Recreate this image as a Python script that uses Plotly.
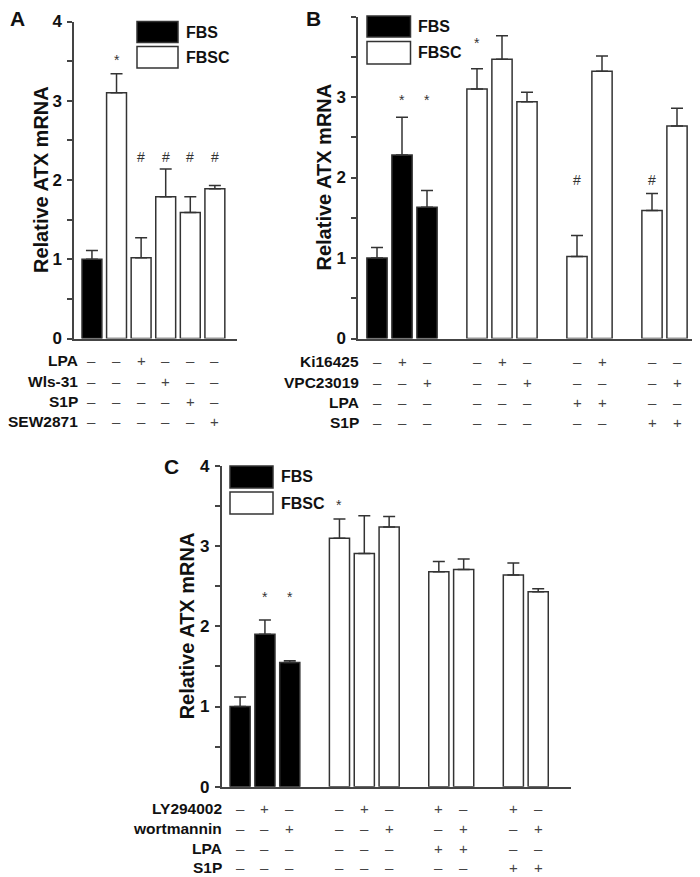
import plotly.graph_objects as go

W, H = 700, 877
OFF = 8  # the page body adds an 8px margin; reference pixels are shifted back by this
FONT = "Liberation Sans, Arial, sans-serif"
DARK = "#333333"

# ---------------- data ----------------
# Panel A
A_x = [0, 1, 2, 3, 4, 5]
A_vals = [1.00, 3.10, 1.02, 1.79, 1.59, 1.89]
A_err = [0.11, 0.24, 0.25, 0.35, 0.20, 0.04]
A_serum = ["FBS", "FBSC", "FBSC", "FBSC", "FBSC", "FBSC"]
A_marks = ["", "*", "#", "#", "#", "#"]
A_mark_y = [0, 3.52, 2.29, 2.29, 2.29, 2.29]
A_row_labels = ["LPA", "Wls-31", "S1P", "SEW2871"]
A_rows = [
    ["–", "–", "+", "–", "–", "–"],
    ["–", "–", "–", "+", "–", "–"],
    ["–", "–", "–", "–", "+", "–"],
    ["–", "–", "–", "–", "–", "+"],
]

# Panel B
B_x = [0, 1, 2, 4, 5, 6, 8, 9, 11, 12]
B_vals = [1.00, 2.28, 1.63, 3.10, 3.47, 2.94, 1.02, 3.32, 1.59, 2.64]
B_err = [0.13, 0.47, 0.21, 0.25, 0.29, 0.12, 0.26, 0.19, 0.21, 0.22]
B_serum = ["FBS", "FBS", "FBS", "FBSC", "FBSC", "FBSC", "FBSC", "FBSC", "FBSC", "FBSC"]
B_marks = ["", "*", "*", "*", "", "", "#", "", "#", ""]
B_mark_y = [0, 2.96, 2.96, 3.67, 0, 0, 1.97, 0, 1.97, 0]
B_row_labels = ["Ki16425", "VPC23019", "LPA", "S1P"]
B_rows = [
    ["–", "+", "–", "–", "+", "–", "–", "+", "–", "–"],
    ["–", "–", "+", "–", "–", "+", "–", "–", "–", "+"],
    ["–", "–", "–", "–", "–", "–", "+", "+", "–", "–"],
    ["–", "–", "–", "–", "–", "–", "–", "–", "+", "+"],
]

# Panel C
C_x = [0, 1, 2, 4, 5, 6, 8, 9, 11, 12]
C_vals = [1.00, 1.90, 1.55, 3.10, 2.91, 3.24, 2.68, 2.71, 2.64, 2.43]
C_err = [0.12, 0.18, 0.02, 0.24, 0.47, 0.13, 0.13, 0.13, 0.15, 0.04]
C_serum = ["FBS", "FBS", "FBS", "FBSC", "FBSC", "FBSC", "FBSC", "FBSC", "FBSC", "FBSC"]
C_marks = ["", "*", "*", "*", "", "", "", "", "", ""]
C_mark_y = [0, 2.37, 2.37, 3.51, 0, 0, 0, 0, 0, 0]
C_row_labels = ["LY294002", "wortmannin", "LPA", "S1P"]
C_rows = [
    ["–", "+", "–", "–", "+", "–", "+", "–", "+", "–"],
    ["–", "–", "+", "–", "–", "+", "–", "+", "–", "+"],
    ["–", "–", "–", "–", "–", "–", "+", "+", "–", "–"],
    ["–", "–", "–", "–", "–", "–", "–", "–", "+", "+"],
]

Y_TICKS = [0, 0.5, 1, 1.5, 2, 2.5, 3, 3.5, 4]
Y_TICKTEXT = ["0", "", "1", "", "2", "", "3", "", "4"]
Y_TITLE = "Relative ATX mRNA"
SERUM_COLORS = {"FBS": "black", "FBSC": "white"}

# ---------------- layout geometry (reference pixels) ----------------
def px(xp):
    return (xp - OFF) / W

def py(yp):
    return 1 - (yp - OFF) / H

panels = [
    dict(name="A", xs=A_x, vals=A_vals, err=A_err, serum=A_serum, marks=A_marks, mark_y=A_mark_y,
         row_labels=A_row_labels, rows=A_rows,
         xdom=(74, 237), ydom=(21.5, 338.5), xrange=(-0.73, 5.9),
         letter=(17, 18.5), title_x=41, label_right=80, row_y=[360, 381.5, 401.5, 421.5],
         leg_box=(137, 178), leg_y=((21.5, 42.5), (46.5, 68)), leg_text_x=184),
    dict(name="B", xs=B_x, vals=B_vals, err=B_err, serum=B_serum, marks=B_marks, mark_y=B_mark_y,
         row_labels=B_row_labels, rows=B_rows,
         xdom=(358, 697), ydom=(16.5, 338.5), xrange=(-0.76, 12.8),
         letter=(313, 18.5), title_x=323, label_right=361, row_y=[361, 382, 402, 423],
         leg_box=(367, 410.5), leg_y=((16, 37), (41.5, 64)), leg_text_x=416),
    dict(name="C", xs=C_x, vals=C_vals, err=C_err, serum=C_serum, marks=C_marks, mark_y=C_mark_y,
         row_labels=C_row_labels, rows=C_rows,
         xdom=(221.7, 570.5), ydom=(466, 786.7), xrange=(-0.74, 13.3),
         letter=(171, 466), title_x=187, label_right=224, row_y=[808.5, 828, 848, 867.5],
         leg_box=(230, 273), leg_y=((466, 488), (492, 514)), leg_text_x=279),
]

fig = go.Figure()
annotations = []
shapes = []

def ann(**kw):
    kw.setdefault("showarrow", False)
    kw.setdefault("xanchor", "center")
    kw.setdefault("yanchor", "middle")
    annotations.append(kw)

for i, p in enumerate(panels):
    n = i + 1
    xa = "x" if n == 1 else f"x{n}"
    ya = "y" if n == 1 else f"y{n}"
    for serum in ["FBS", "FBSC"]:
        idx = [k for k, s in enumerate(p["serum"]) if s == serum]
        if not idx:
            continue
        fig.add_trace(go.Bar(
            x=[p["xs"][k] for k in idx],
            y=[p["vals"][k] for k in idx],
            width=0.81,
            marker=dict(color=SERUM_COLORS[serum], line=dict(color=DARK, width=1.5)),
            error_y=dict(type="data", symmetric=False,
                         array=[p["err"][k] for k in idx],
                         arrayminus=[0] * len(idx),
                         color=DARK, thickness=1.5, width=6),
            xaxis=xa, yaxis=ya, showlegend=False, name=serum,
        ))
    xkey = "xaxis" if n == 1 else f"xaxis{n}"
    ykey = "yaxis" if n == 1 else f"yaxis{n}"
    fig.update_layout(**{
        xkey: dict(domain=[px(p["xdom"][0]), px(p["xdom"][1])], range=list(p["xrange"]),
                   anchor=ya, showline=True, linecolor="#444", linewidth=1.5,
                   showticklabels=False, ticks="", showgrid=False, zeroline=False,
                   automargin=False, fixedrange=True),
        ykey: dict(domain=[py(p["ydom"][1]), py(p["ydom"][0])], range=[0, 4],
                   anchor=xa, showline=True, linecolor="#444", linewidth=1.5,
                   tickvals=Y_TICKS, ticktext=Y_TICKTEXT, ticks="outside", ticklen=5,
                   tickwidth=1.5, tickcolor="#444", showgrid=False, zeroline=False,
                   automargin=False, fixedrange=True, ticklabelstandoff=2,
                   tickfont=dict(family=FONT, size=17, color="#111", weight="bold")),
    })
    # significance marks
    for xv, m, my in zip(p["xs"], p["marks"], p["mark_y"]):
        if m:
            ann(x=xv, y=my, xref=xa, yref=ya, text=m,
                font=dict(family=FONT, size=14, color=DARK))
    # y title
    yc = (p["ydom"][0] + p["ydom"][1]) / 2
    ann(x=px(p["title_x"]), y=py(yc), xref="paper", yref="paper",
        text=Y_TITLE, textangle=-90,
        font=dict(family=FONT, size=20, color="#111", weight="bold"))
    # panel letter
    ann(x=px(p["letter"][0]), y=py(p["letter"][1]), xref="paper", yref="paper",
        text=p["name"], height=21, borderpad=0, valign="middle",
        font=dict(family=FONT, size=21, color="#111", weight="bold"))
    # condition table
    for lab, row, ry in zip(p["row_labels"], p["rows"], p["row_y"]):
        ann(x=px(p["label_right"]), y=py(ry), xref="paper", yref="paper",
            text=lab, xanchor="right",
            font=dict(family=FONT, size=15.5, color="#111", weight="bold"))
        for xv, s in zip(p["xs"], row):
            ann(x=xv, y=py(ry), xref=xa, yref="paper", text=s,
                font=dict(family=FONT, size=15, color="#444"))
    # legend
    for (y0, y1), serum in zip(p["leg_y"], ["FBS", "FBSC"]):
        shapes.append(dict(type="rect", xref="paper", yref="paper",
                           x0=px(p["leg_box"][0]), x1=px(p["leg_box"][1]),
                           y0=py(y1), y1=py(y0),
                           fillcolor=SERUM_COLORS[serum], line=dict(color=DARK, width=1.5)))
        ann(x=px(p["leg_text_x"]), y=py((y0 + y1) / 2), xref="paper", yref="paper",
            text=serum, xanchor="left",
            font=dict(family=FONT, size=16, color="#111", weight="bold"))

fig.update_layout(
    width=W, height=H,
    margin=dict(l=0, r=0, t=0, b=0, pad=0, autoexpand=False),
    paper_bgcolor="white", plot_bgcolor="white",
    barmode="overlay",
    annotations=annotations, shapes=shapes,
    font=dict(family=FONT),
)

fig.write_html("out.html")
